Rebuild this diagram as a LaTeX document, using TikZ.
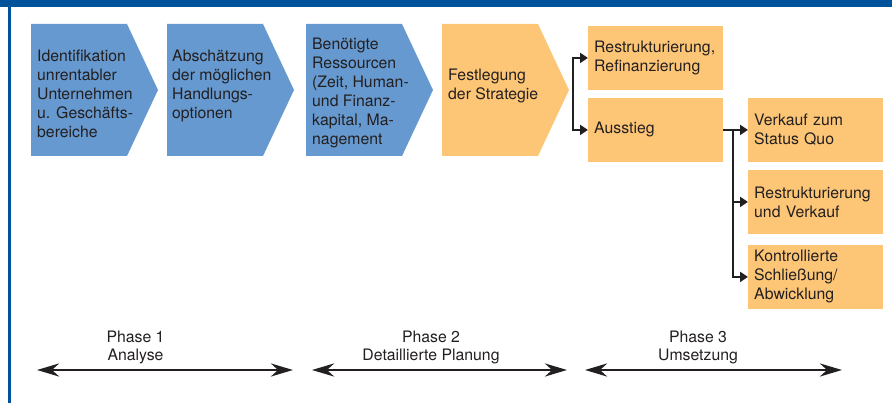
\documentclass[tikz,border=0pt]{standalone}
\usepackage{fontspec}
\setmainfont{TeX Gyre Heros}
\usetikzlibrary{arrows.meta}
\definecolor{chevblue}{HTML}{6699CF}
\definecolor{boxorange}{HTML}{FDC676}
\definecolor{frameblue}{HTML}{00529B}
\definecolor{txt}{HTML}{231F20}
\begin{document}
\begin{tikzpicture}[x=1pt,y=-1pt,
  every node/.style={font=\fontsize{15.8}{19}\selectfont, text=txt},
  chevtext/.style={anchor=north west, inner sep=0pt, align=left},
  optbox/.style={fill=boxorange, minimum height=63.5pt, text width=123pt,
    inner xsep=6pt, inner ysep=0pt, align=left, anchor=north west},
  conn/.style={draw=txt, line width=2.6pt, -{Triangle[length=8pt,width=10pt]}},
  phasearrow/.style={draw=txt, line width=2.8pt,
    {Stealth[length=22pt,width=13pt,inset=7pt]}-{Stealth[length=22pt,width=13pt,inset=7pt]}},
  phaselabel/.style={align=center, inner sep=0pt, font=\fontsize{15.8}{18.5}\selectfont}
]
\useasboundingbox (0,0) rectangle (892,403);
% frame
\fill[frameblue] (0,0) rectangle (892,7.5);
\fill[frameblue] (8,0) rectangle (11,403);
% chevrons
\fill[chevblue] (31,24) -- (127,24) -- (158,90) -- (127,156) -- (31,156) -- cycle;
\fill[chevblue] (167,24) -- (263,24) -- (294,90) -- (263,156) -- (167,156) -- cycle;
\fill[chevblue] (306,24) -- (402,24) -- (433,90) -- (402,156) -- (306,156) -- cycle;
\fill[boxorange] (442,24) -- (538,24) -- (569,90) -- (538,156) -- (442,156) -- cycle;
\node[chevtext] (c1) at (37,49.3) {Identifikation\\unrentabler\\Unternehmen\\u. Geschäfts-\\bereiche};
\node[chevtext] (c2) at (172,49.3) {Abschätzung\\der möglichen\\Handlungs-\\optionen};
\node[chevtext] (c3) at (312,37.3) {Benötigte\\Ressourcen\\(Zeit, Human-\\und Finanz-\\kapital, Ma-\\nagement};
\node[chevtext] (c4) at (448,68.3) {Festlegung\\der Strategie};
% option boxes
\node[optbox] (r1) at (588,26) {Restrukturierung,\\Refinanzierung};
\node[optbox] (a1) at (588,98) {Ausstieg};
\node[optbox] (v1) at (748,98) {Verkauf zum\\Status Quo};
\node[optbox] (v2) at (748,170) {Restrukturierung\\und Verkauf};
\node[optbox] (v3) at (748,245) {Kontrollierte\\Schließung/\\Abwicklung};
% connectors
\coordinate (f1) at (573,90);
\draw[conn] (f1) |- (r1.west);
\draw[conn] (f1) |- (a1.west);
\draw[conn] (a1.east) -- (v1.west);
\coordinate (f2) at (733,130);
\draw[conn] (f2) |- (v2.west);
\draw[conn] (f2) |- (v3.west);
% phases
\coordinate (pa1) at (37,370);  \coordinate (pb1) at (293,370);
\coordinate (pa2) at (312,370); \coordinate (pb2) at (567,370);
\coordinate (pa3) at (585,370); \coordinate (pb3) at (842,370);
\draw[phasearrow] (pa1) -- (pb1);
\draw[phasearrow] (pa2) -- (pb2);
\draw[phasearrow] (pa3) -- (pb3);
\node[phaselabel] (p1) at (135.5,347.5) {Phase 1\\Analyse};
\node[phaselabel] (p2) at (431,347.5) {Phase 2\\Detaillierte Planung};
\node[phaselabel] (p3) at (698,347.5) {Phase 3\\Umsetzung};
\end{tikzpicture}
\end{document}
